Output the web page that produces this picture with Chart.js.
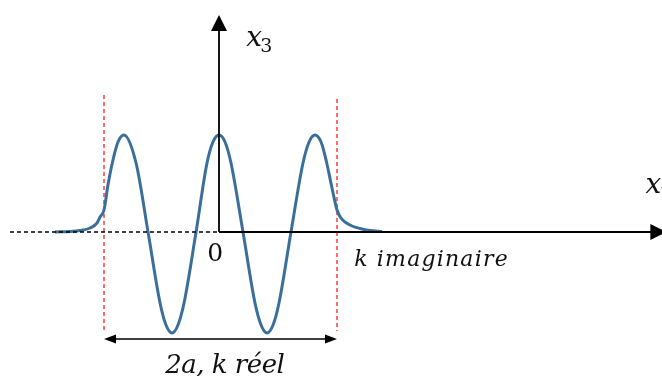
<!DOCTYPE html>
<html>
<head>
<meta charset="utf-8">
<script src="https://cdn.jsdelivr.net/npm/chart.js@4.4.1/dist/chart.umd.min.js"></script>
<style>
  html, body { margin: 0; padding: 0; background: #fff; overflow: hidden; }
  canvas { display: block; }
</style>
</head>
<body>
<canvas id="chart" width="662" height="376"></canvas>
<script>
// x in units of a (half width of the well), y in units of the wave amplitude
const waveX = [-1.408, -1.279, -1.193, -1.107, -1.047, -1.021, -0.987, -0.953, -0.910, -0.867,
  -0.816, -0.712, -0.609, -0.506, -0.455, -0.403, -0.352, -0.300, -0.197, -0.103, -0.052,
  0.000, 0.052, 0.103, 0.206, 0.309, 0.361, 0.412, 0.464, 0.515, 0.618, 0.721, 0.773,
  0.824, 0.876, 0.919, 0.970, 1.013, 1.047, 1.082, 1.142, 1.210, 1.296, 1.399];
const waveY = [0.00, 0.005, 0.015, 0.04, 0.09, 0.15, 0.22, 0.47, 0.72, 0.90,
  0.97, 0.69, 0.00, -0.71, -0.93, -1.01, -0.93, -0.71, 0.00, 0.69, 0.90,
  0.97, 0.90, 0.69, 0.00, -0.71, -0.93, -1.01, -0.93, -0.71, 0.00, 0.69, 0.90,
  0.97, 0.90, 0.72, 0.44, 0.22, 0.14, 0.10, 0.06, 0.035, 0.015, 0.005];

// well edges (red dashed lines)
const wellEdges = [-0.987, 1.013];
const wellTops = [1.37, 1.33];
const wellBottom = -0.99;

// axes
const axisLeftEnd = -1.794;   // dashed part starts here
const axisRightEnd = 3.84;    // arrow tip (just off the picture)
const axisTop = 2.17;         // arrow tip of x3
const spanArrowY = -1.07;     // the "2a" double arrow

// text labels: [text, x, y]
const labelZero = ['0', -0.10, -0.285];
const labelImag = ['k imaginaire', 1.16, -0.34];
const labelReal = ['2a, k réel', 0.05, -1.41];
const labelX3 = ['x', '3', 0.235, 1.86];
const labelX1 = ['x', '1', 3.66, 0.39];

function arrowHead(ctx, tipX, tipY, dir, len, half) {
  // dir: unit vector pointing to the tip
  const [dx, dy] = dir;
  const bx = tipX - dx * len, by = tipY - dy * len;
  ctx.beginPath();
  ctx.moveTo(tipX, tipY);
  ctx.lineTo(bx - dy * half, by + dx * half);
  ctx.lineTo(bx + dy * half, by - dx * half);
  ctx.closePath();
  ctx.fill();
}

const diagram = {
  id: 'diagram',
  afterDatasetsDraw(chart) {
    const { ctx, scales: { x, y } } = chart;
    const px = v => x.getPixelForValue(v);
    const py = v => y.getPixelForValue(v);
    const y0 = py(0), x0 = px(0);
    ctx.save();
    ctx.strokeStyle = '#000';
    ctx.fillStyle = '#000';

    // dashed negative half of the horizontal axis
    ctx.lineWidth = 1.3;
    ctx.setLineDash([4, 3]);
    ctx.beginPath();
    ctx.moveTo(px(axisLeftEnd), y0);
    ctx.lineTo(x0, y0);
    ctx.stroke();
    ctx.setLineDash([]);

    // solid axes
    ctx.lineWidth = 1.8;
    ctx.beginPath();
    ctx.moveTo(x0, y0);
    ctx.lineTo(px(axisRightEnd) - 10, y0);
    ctx.moveTo(x0, y0);
    ctx.lineTo(x0, py(axisTop) + 10);
    ctx.stroke();
    arrowHead(ctx, x0, py(axisTop), [0, -1], 16, 8);
    arrowHead(ctx, px(axisRightEnd), y0, [1, 0], 16, 8);

    // 2a double arrow
    const xa = px(wellEdges[0]), xb = px(wellEdges[1]), ya = py(spanArrowY);
    ctx.lineWidth = 1.6;
    ctx.beginPath();
    ctx.moveTo(xa + 6, ya);
    ctx.lineTo(xb - 6, ya);
    ctx.stroke();
    arrowHead(ctx, xa, ya, [-1, 0], 12, 4.5);
    arrowHead(ctx, xb, ya, [1, 0], 12, 4.5);

    // labels
    ctx.fillStyle = '#111';
    ctx.textBaseline = 'alphabetic';
    ctx.font = '25px "DejaVu Serif"';
    ctx.textAlign = 'left';
    ctx.fillText(labelZero[0], px(labelZero[1]), py(labelZero[2]));

    ctx.font = 'italic 22px "DejaVu Serif"';
    ctx.letterSpacing = '1.2px';
    ctx.fillText(labelImag[0], px(labelImag[1]), py(labelImag[2]));

    ctx.font = 'italic 26px "DejaVu Serif"';
    ctx.letterSpacing = '-0.5px';
    ctx.textAlign = 'center';
    ctx.fillText(labelReal[0], px(labelReal[1]), py(labelReal[2]));
    ctx.letterSpacing = '0px';

    ctx.textAlign = 'left';
    [labelX3, labelX1].forEach(([main, sub, lx, ly]) => {
      const bx = px(lx), by = py(ly);
      ctx.font = 'italic 28px "DejaVu Serif"';
      ctx.fillText(main, bx, by);
      const w = ctx.measureText(main).width;
      ctx.font = '19px "DejaVu Serif"';
      ctx.fillText(sub, bx + w - 2, by + 6);
    });
    ctx.restore();
  }
};

const wavePoints = waveX.map((v, i) => ({ x: v, y: waveY[i] }));
const edgeSets = wellEdges.map((e, i) => ({
  data: [{ x: e, y: wellTops[i] }, { x: e, y: wellBottom }],
  borderColor: '#ff3b3b',
  borderWidth: 1.5,
  borderDash: [4, 3],
  pointRadius: 0,
  showLine: true,
  order: 2
}));

new Chart(document.getElementById('chart'), {
  type: 'scatter',
  data: {
    datasets: [
      {
        data: wavePoints,
        borderColor: '#3a6f9b',
        borderWidth: 3,
        pointRadius: 0,
        showLine: true,
        cubicInterpolationMode: 'monotone',
        order: 1
      },
      ...edgeSets
    ]
  },
  options: {
    responsive: false,
    animation: false,
    devicePixelRatio: 1,
    layout: { padding: 0 },
    plugins: { legend: { display: false }, tooltip: { enabled: false } },
    scales: {
      x: { type: 'linear', display: false, min: -1.8798, max: 3.8026 },
      y: { type: 'linear', display: false, min: -1.44, max: 2.32 }
    }
  },
  plugins: [diagram]
});
</script>
</body>
</html>
